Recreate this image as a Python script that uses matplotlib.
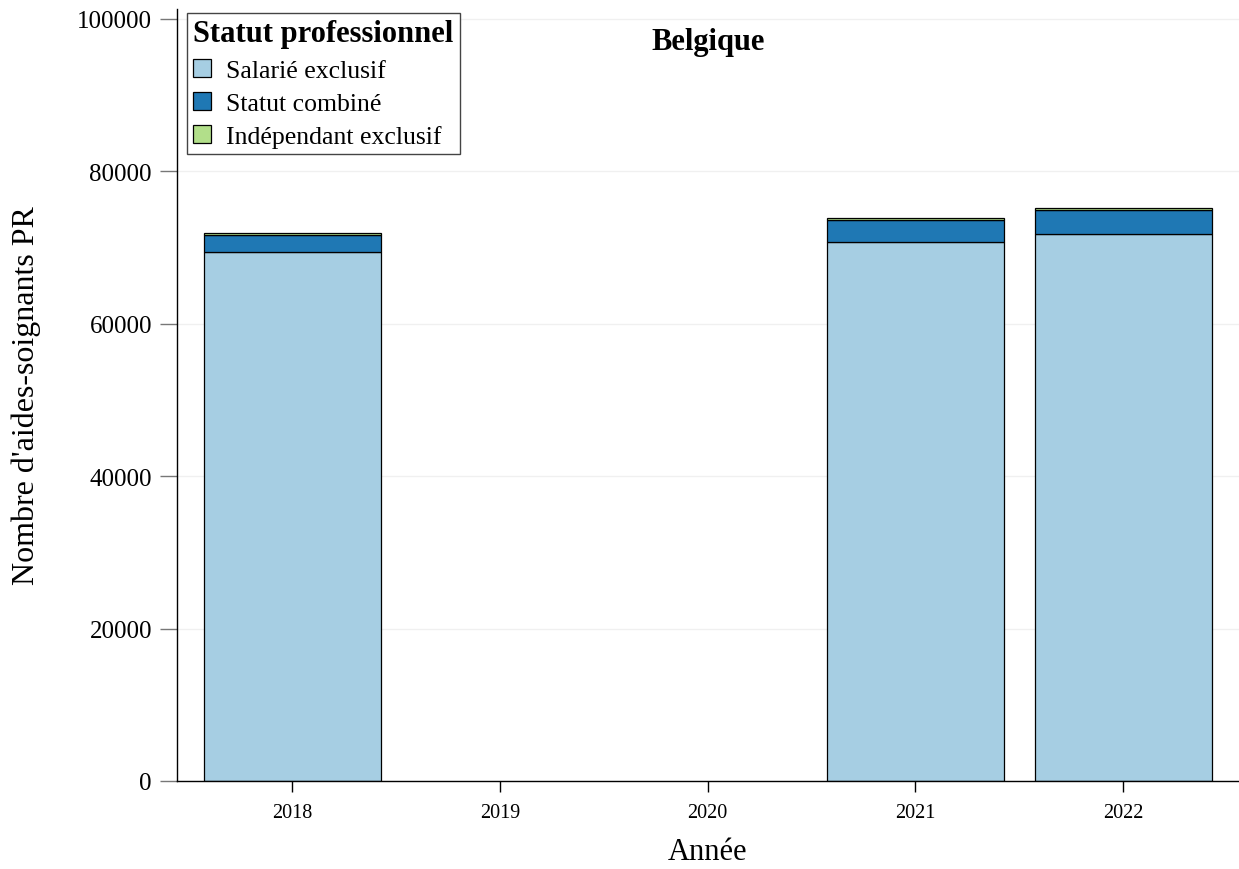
import matplotlib.pyplot as plt
import numpy as np

plt.rcParams['font.family'] = ['Liberation Serif', 'DejaVu Serif']

annees = ['2018', '2019', '2020', '2021', '2022']
salarie = [69400, 0, 0, 70700, 71800]      # Salarié exclusif
combine = [2250, 0, 0, 2900, 3150]         # Statut combiné
independant = [300, 0, 0, 250, 250]        # Indépendant exclusif

couleurs = ['#a6cee3', '#1f78b4', '#b2df8a']
noms = ['Salarié exclusif', 'Statut combiné', 'Indépendant exclusif']

fig = plt.figure(figsize=(12.39, 8.70), dpi=100)
ax = fig.add_axes([177 / 1239, 88 / 870, 1 - 177 / 1239, 772 / 870])

x = np.arange(len(annees))
bas = np.zeros(len(annees))
for vals, c, nom in zip([salarie, combine, independant], couleurs, noms):
    vals = np.array(vals, dtype=float)
    # pas de barre quand il n'y a pas de données
    ok = vals > 0
    ax.bar(x[ok], vals[ok], bottom=bas[ok], width=0.852, color=c,
           edgecolor='black', linewidth=0.9, label=nom)
    bas = bas + vals

ax.set_xlim(-0.554, 4.557)
ax.set_ylim(0, 101300)
ax.set_yticks([0, 20000, 40000, 60000, 80000, 100000])
ax.set_xticks(x)
ax.set_xticklabels(annees)
ax.yaxis.grid(True, color='#f0f0f0', linewidth=1)
ax.set_axisbelow(True)

for s in ['top', 'right']:
    ax.spines[s].set_visible(False)
ax.spines['left'].set_linewidth(1)
ax.spines['bottom'].set_linewidth(1)

ax.tick_params(axis='y', labelsize=18, length=12, color='#777777', width=1, pad=6)
ax.tick_params(axis='x', labelsize=14.5, length=8, color='black', width=1, pad=8)

ax.set_xlabel('Année', fontsize=22, labelpad=11)
ax.set_ylabel("Nombre d'aides-soignants PR", fontsize=23, labelpad=26)

ax.text(0.5, 0.958, 'Belgique', transform=ax.transAxes, ha='center', va='center',
        fontsize=22, fontweight='bold')

leg = ax.legend(loc='upper left', bbox_to_anchor=(0.009, 0.995), fontsize=18.5,
                title='Statut professionnel', title_fontproperties={'weight': 'bold', 'size': 22},
                alignment='left', fancybox=False, edgecolor='#444444', framealpha=1,
                handlelength=0.7, handleheight=0.7, handletextpad=0.6,
                labelspacing=0.4, borderpad=0.25, borderaxespad=0)
leg.get_frame().set_linewidth(1)

fig.savefig('out.png', dpi=100)
